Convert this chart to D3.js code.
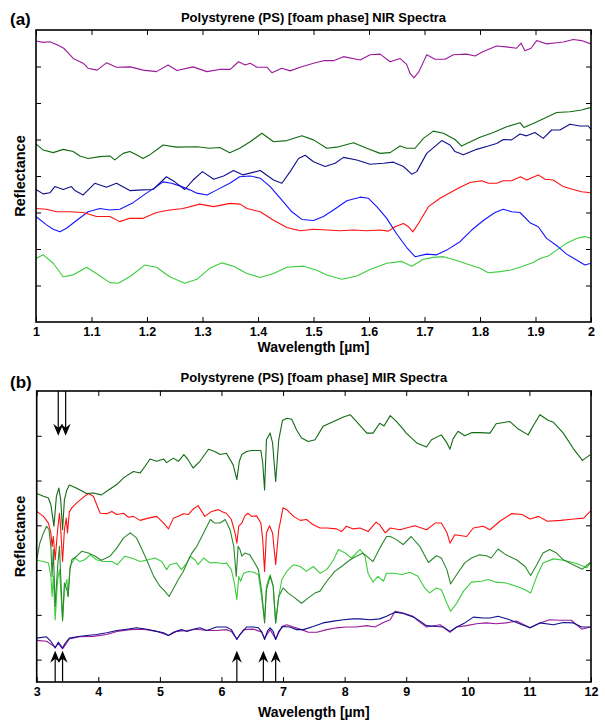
<!DOCTYPE html>
<html><head><meta charset="utf-8">
<script src="https://cdn.jsdelivr.net/npm/d3@7"></script>
<style>body{margin:0;background:#fff}svg{display:block}</style>
</head><body>
<svg id="c" width="606" height="721"></svg>
<script>
// ---------- NIR panel (a) ----------
const nirTicksX = [1,1.1,1.2,1.3,1.4,1.5,1.6,1.7,1.8,1.9,2];
const nirTickLabels = ["1","1.1","1.2","1.3","1.4","1.5","1.6","1.7","1.8","1.9","2"];
const nirTicksY = [1,2,3,4,5,6,7];
const nirPurple = [[1.0,7.70],[1.013,7.66],[1.025,7.68],[1.04,7.58],[1.05,7.50],[1.06,7.34],[1.067,7.22],[1.085,7.09],[1.094,6.95],[1.11,6.90],[1.127,7.10],[1.145,6.98],[1.17,6.99],[1.193,6.90],[1.217,6.86],[1.238,7.04],[1.254,6.89],[1.283,6.99],[1.308,6.86],[1.331,6.92],[1.35,6.92],[1.365,7.13],[1.377,7.04],[1.386,7.09],[1.398,6.98],[1.416,6.98],[1.425,6.83],[1.443,6.95],[1.458,6.88],[1.476,6.98],[1.50,7.09],[1.518,7.16],[1.536,7.16],[1.554,7.27],[1.584,7.18],[1.602,7.32],[1.62,7.34],[1.638,7.13],[1.656,7.22],[1.668,7.05],[1.674,6.81],[1.681,6.69],[1.69,6.86],[1.704,7.32],[1.719,7.20],[1.737,7.20],[1.752,7.32],[1.776,7.34],[1.791,7.29],[1.806,7.41],[1.83,7.56],[1.851,7.53],[1.866,7.50],[1.874,7.64],[1.881,7.43],[1.892,7.50],[1.902,7.71],[1.92,7.62],[1.938,7.65],[1.95,7.67],[1.968,7.74],[1.983,7.71],[2.0,7.62]];
const nirDarkGreen = [[1.0,4.88],[1.013,4.71],[1.031,4.64],[1.049,4.73],[1.067,4.67],[1.079,4.55],[1.094,4.48],[1.115,4.53],[1.133,4.55],[1.142,4.44],[1.157,4.62],[1.169,4.67],[1.181,4.58],[1.193,4.48],[1.205,4.58],[1.229,4.85],[1.253,4.79],[1.29,4.80],[1.313,4.76],[1.331,4.78],[1.349,4.64],[1.367,4.76],[1.386,4.94],[1.407,5.17],[1.428,4.94],[1.452,4.97],[1.479,5.10],[1.5,4.99],[1.524,4.76],[1.542,4.79],[1.572,4.91],[1.596,4.76],[1.62,4.62],[1.638,4.64],[1.656,4.82],[1.668,4.76],[1.683,4.76],[1.698,5.03],[1.716,5.23],[1.734,5.17],[1.755,5.00],[1.767,4.82],[1.776,4.89],[1.80,5.06],[1.824,5.19],[1.848,5.35],[1.872,5.46],[1.879,5.33],[1.896,5.44],[1.920,5.61],[1.938,5.74],[1.962,5.76],[1.983,5.81],[2.0,5.88]];
const nirNavy = [[1.0,3.63],[1.013,3.51],[1.025,3.54],[1.034,3.71],[1.049,3.63],[1.064,3.71],[1.07,3.60],[1.085,3.48],[1.106,3.80],[1.127,3.69],[1.145,3.80],[1.169,3.60],[1.193,3.62],[1.211,3.63],[1.235,3.98],[1.25,3.84],[1.268,3.63],[1.283,3.89],[1.30,4.12],[1.32,3.91],[1.338,4.0],[1.356,4.15],[1.373,4.03],[1.404,4.15],[1.428,3.89],[1.443,3.80],[1.458,4.12],[1.473,4.48],[1.485,4.57],[1.50,4.39],[1.521,4.26],[1.539,4.35],[1.554,4.51],[1.578,4.44],[1.602,4.32],[1.626,4.35],[1.644,4.38],[1.662,4.26],[1.677,4.05],[1.686,4.12],[1.704,4.62],[1.731,4.97],[1.746,4.85],[1.755,4.67],[1.77,4.58],[1.794,4.73],[1.815,4.82],[1.830,4.89],[1.842,5.0],[1.857,4.99],[1.872,5.15],[1.884,5.10],[1.899,5.19],[1.914,5.03],[1.929,5.26],[1.944,5.26],[1.962,5.42],[1.98,5.37],[1.995,5.37],[2.0,5.28]];
const nirRed = [[1.0,3.11],[1.019,3.09],[1.037,3.02],[1.061,3.02],[1.085,3.0],[1.109,2.89],[1.133,2.89],[1.151,2.75],[1.169,2.84],[1.193,2.84],[1.217,3.0],[1.241,3.07],[1.265,3.11],[1.295,3.23],[1.32,3.16],[1.35,3.25],[1.368,3.23],[1.38,3.11],[1.404,3.02],[1.428,2.79],[1.452,2.59],[1.476,2.50],[1.50,2.54],[1.524,2.52],[1.548,2.50],[1.572,2.52],[1.596,2.50],[1.62,2.52],[1.635,2.49],[1.647,2.61],[1.662,2.70],[1.671,2.61],[1.679,2.47],[1.689,2.70],[1.707,3.16],[1.728,3.39],[1.746,3.54],[1.764,3.69],[1.782,3.82],[1.803,3.87],[1.815,3.80],[1.830,3.80],[1.842,3.87],[1.857,3.87],[1.873,3.98],[1.884,3.89],[1.905,4.03],[1.917,3.91],[1.932,3.89],[1.950,3.71],[1.968,3.63],[1.983,3.57],[2.0,3.54]];
const nirBlue = [[1.0,2.89],[1.019,2.66],[1.031,2.54],[1.043,2.47],[1.055,2.57],[1.073,2.78],[1.094,3.02],[1.115,3.11],[1.133,3.07],[1.151,3.09],[1.175,3.27],[1.199,3.53],[1.217,3.71],[1.229,3.84],[1.244,3.80],[1.259,3.73],[1.277,3.62],[1.29,3.53],[1.308,3.48],[1.326,3.62],[1.349,3.80],[1.367,3.98],[1.386,4.0],[1.404,3.94],[1.422,3.71],[1.443,3.34],[1.461,3.02],[1.479,2.81],[1.50,2.78],[1.518,2.89],[1.536,3.07],[1.560,3.32],[1.584,3.42],[1.599,3.39],[1.614,3.16],[1.632,2.84],[1.650,2.41],[1.668,2.04],[1.683,1.79],[1.704,1.86],[1.722,1.84],[1.740,1.97],[1.764,2.20],[1.785,2.52],[1.806,2.78],[1.827,3.0],[1.842,3.09],[1.857,3.02],[1.872,3.0],[1.890,2.72],[1.905,2.61],[1.920,2.29],[1.941,2.06],[1.956,1.86],[1.974,1.70],[1.989,1.56],[2.0,1.61]];
const nirLightGreen = [[1.0,1.74],[1.013,1.84],[1.031,1.61],[1.049,1.24],[1.067,1.29],[1.091,1.50],[1.109,1.33],[1.133,1.08],[1.148,1.06],[1.169,1.24],[1.196,1.56],[1.217,1.50],[1.241,1.24],[1.268,1.06],[1.29,1.17],[1.313,1.47],[1.335,1.62],[1.356,1.53],[1.380,1.33],[1.404,1.22],[1.428,1.33],[1.452,1.50],[1.482,1.53],[1.506,1.42],[1.524,1.29],[1.551,1.17],[1.578,1.26],[1.602,1.44],[1.632,1.61],[1.659,1.66],[1.677,1.53],[1.698,1.72],[1.716,1.77],[1.734,1.79],[1.755,1.70],[1.782,1.56],[1.8,1.47],[1.815,1.35],[1.836,1.38],[1.854,1.42],[1.872,1.50],[1.896,1.63],[1.908,1.74],[1.923,1.81],[1.938,1.97],[1.956,2.16],[1.974,2.29],[1.989,2.34],[2.0,2.29]];

// ---------- MIR panel (b) ----------
const mirTicksX = [3,4,5,6,7,8,9,10,11,12];
const mirTickLabels = ["3","4","5","6","7","8","9","10","11","12"];
const mirTicksY = [0,1,2,3,4,5];
const mirDarkGreenTop = [[3.0,3.71],[3.11,3.65],[3.19,3.61],[3.23,3.46],[3.28,2.98],[3.32,3.65],[3.36,3.83],[3.39,3.57],[3.42,2.90],[3.45,3.57],[3.49,3.79],[3.53,3.90],[3.65,3.83],[3.81,3.71],[3.92,3.72],[4.05,3.68],[4.19,3.81],[4.30,3.91],[4.41,4.06],[4.57,4.20],[4.68,4.17],[4.76,4.32],[4.84,4.48],[4.95,4.43],[5.06,4.48],[5.11,4.40],[5.22,4.50],[5.30,4.43],[5.39,4.58],[5.46,4.46],[5.54,4.28],[5.65,4.43],[5.79,4.70],[5.89,4.65],[5.98,4.58],[6.08,4.61],[6.19,4.35],[6.25,4.02],[6.29,4.43],[6.33,4.58],[6.41,4.65],[6.49,4.67],[6.57,4.67],[6.64,4.67],[6.67,4.39],[6.70,3.79],[6.73,4.91],[6.79,5.06],[6.83,4.84],[6.88,3.98],[6.93,4.91],[6.99,5.34],[7.06,5.39],[7.14,5.37],[7.22,5.13],[7.30,4.95],[7.41,4.87],[7.52,4.91],[7.65,5.21],[7.82,5.32],[7.98,5.42],[8.09,5.47],[8.19,5.32],[8.36,5.06],[8.46,5.06],[8.57,5.28],[8.64,5.22],[8.74,5.45],[8.84,5.32],[8.95,5.15],[9.0,5.06],[9.17,4.84],[9.33,4.75],[9.41,4.91],[9.57,5.02],[9.66,4.84],[9.71,4.70],[9.76,4.93],[9.84,5.10],[9.95,5.0],[10.06,5.07],[10.19,5.07],[10.36,5.06],[10.46,5.27],[10.68,5.32],[10.82,5.15],[10.98,5.02],[11.06,5.22],[11.17,5.47],[11.31,5.34],[11.39,5.30],[11.55,5.06],[11.71,4.72],[11.86,4.45],[11.99,4.58]];
const mirRed = [[3.0,3.31],[3.11,3.20],[3.19,3.05],[3.23,2.83],[3.25,2.53],[3.27,2.75],[3.30,2.23],[3.34,2.90],[3.37,3.27],[3.39,2.90],[3.42,2.19],[3.45,2.90],[3.48,3.16],[3.50,2.83],[3.53,3.30],[3.57,3.39],[3.65,3.50],[3.76,3.63],[3.84,3.71],[3.92,3.65],[4.03,3.27],[4.14,3.26],[4.22,3.31],[4.30,3.24],[4.41,3.27],[4.49,3.18],[4.57,3.20],[4.68,3.11],[4.81,3.16],[4.95,3.20],[5.06,3.05],[5.14,2.92],[5.22,3.16],[5.30,3.20],[5.38,3.26],[5.46,3.24],[5.54,3.36],[5.62,3.44],[5.73,3.20],[5.84,3.31],[5.95,3.35],[6.03,3.29],[6.08,3.27],[6.16,3.13],[6.22,2.83],[6.25,2.60],[6.28,2.98],[6.33,3.05],[6.38,3.21],[6.43,3.27],[6.49,3.20],[6.57,3.21],[6.64,3.05],[6.67,2.68],[6.70,1.97],[6.73,2.83],[6.78,2.99],[6.83,2.83],[6.88,2.12],[6.93,2.90],[7.0,3.39],[7.06,3.35],[7.17,3.20],[7.28,3.11],[7.38,3.13],[7.49,3.01],[7.60,2.94],[7.71,2.94],[7.87,2.92],[7.95,2.86],[8.03,2.98],[8.14,2.92],[8.25,2.94],[8.38,2.86],[8.51,3.07],[8.57,3.01],[8.66,2.83],[8.74,2.94],[8.90,2.90],[9.0,2.94],[9.14,2.99],[9.33,2.90],[9.47,3.05],[9.57,3.05],[9.66,2.84],[9.71,2.60],[9.79,2.79],[9.98,2.75],[10.09,2.94],[10.25,2.98],[10.36,2.90],[10.52,3.09],[10.71,3.26],[10.88,3.24],[11.01,3.14],[11.15,3.20],[11.29,3.09],[11.51,3.11],[11.72,3.14],[11.88,3.16],[12.0,3.33]];
const mirDarkGreenMid = [[3.0,2.23],[3.05,2.60],[3.11,2.83],[3.16,2.98],[3.20,2.90],[3.23,2.53],[3.25,1.86],[3.27,2.46],[3.30,1.19],[3.34,2.08],[3.37,2.53],[3.39,1.86],[3.42,0.89],[3.45,1.71],[3.49,1.56],[3.51,1.41],[3.54,2.0],[3.57,2.23],[3.65,2.31],[3.73,2.42],[3.84,2.38],[3.95,2.31],[4.05,2.22],[4.19,2.31],[4.30,2.49],[4.41,2.72],[4.52,2.83],[4.62,2.72],[4.76,2.31],[4.90,1.86],[5.0,1.64],[5.08,1.53],[5.15,1.41],[5.21,1.56],[5.30,1.79],[5.38,1.97],[5.44,2.16],[5.52,2.38],[5.60,2.53],[5.71,2.83],[5.82,3.13],[5.89,3.05],[5.98,3.05],[6.06,3.13],[6.14,2.90],[6.20,2.53],[6.24,1.86],[6.27,2.53],[6.30,2.46],[6.33,2.31],[6.38,2.38],[6.46,2.34],[6.54,2.16],[6.60,2.01],[6.65,1.56],[6.70,0.82],[6.73,1.56],[6.79,1.86],[6.84,1.64],[6.88,0.82],[6.93,1.41],[7.0,1.60],[7.08,1.49],[7.19,1.38],[7.30,1.26],[7.41,1.38],[7.52,1.49],[7.60,1.53],[7.71,1.75],[7.84,1.97],[7.95,2.08],[8.09,2.23],[8.19,2.31],[8.30,2.38],[8.46,2.19],[8.57,2.49],[8.68,2.75],[8.74,2.75],[8.84,2.68],[8.95,2.57],[9.08,2.75],[9.22,2.53],[9.36,2.17],[9.49,2.32],[9.57,2.27],[9.66,2.01],[9.72,1.69],[9.82,1.90],[9.95,2.16],[10.06,2.27],[10.19,2.34],[10.30,2.32],[10.38,2.27],[10.49,2.47],[10.62,2.34],[10.79,2.23],[10.93,2.08],[11.02,1.88],[11.12,2.12],[11.22,2.38],[11.33,2.46],[11.44,2.38],[11.55,2.23],[11.71,2.12],[11.86,2.02],[11.99,2.17]];
const mirLightGreen = [[3.0,2.22],[3.11,2.19],[3.19,2.16],[3.23,1.86],[3.25,1.41],[3.27,1.86],[3.30,0.89],[3.34,1.79],[3.37,2.01],[3.39,1.56],[3.42,0.86],[3.45,1.56],[3.49,1.79],[3.51,1.41],[3.54,2.08],[3.62,2.27],[3.70,2.19],[3.78,2.23],[3.87,2.34],[3.97,2.23],[4.08,2.19],[4.22,2.19],[4.31,2.12],[4.43,2.31],[4.54,2.27],[4.68,2.19],[4.81,2.23],[4.92,2.27],[5.03,2.19],[5.11,2.01],[5.16,2.12],[5.27,2.16],[5.35,2.01],[5.44,2.16],[5.49,2.31],[5.57,2.23],[5.62,2.12],[5.71,2.27],[5.81,2.16],[5.92,2.17],[6.03,2.14],[6.08,2.16],[6.16,2.01],[6.21,1.71],[6.25,1.34],[6.28,1.86],[6.31,1.75],[6.36,1.93],[6.44,1.97],[6.52,1.95],[6.60,1.90],[6.65,1.41],[6.70,0.89],[6.73,1.64],[6.79,1.90],[6.84,1.64],[6.88,0.82],[6.93,1.41],[6.98,1.79],[7.06,1.97],[7.17,2.12],[7.28,2.08],[7.38,1.97],[7.49,2.08],[7.60,1.93],[7.71,2.01],[7.82,2.23],[7.90,2.46],[8.01,2.38],[8.11,2.27],[8.25,2.46],[8.33,2.31],[8.38,1.93],[8.46,1.73],[8.54,1.86],[8.63,1.75],[8.68,1.93],[8.79,1.93],[8.93,1.90],[9.06,1.95],[9.19,1.86],[9.30,1.60],[9.38,1.49],[9.49,1.60],[9.57,1.56],[9.66,1.26],[9.72,1.08],[9.82,1.26],[9.93,1.53],[10.06,1.73],[10.22,1.75],[10.33,1.79],[10.46,1.73],[10.62,1.71],[10.79,1.64],[10.93,1.56],[11.02,1.49],[11.12,1.86],[11.22,2.16],[11.39,2.25],[11.55,2.22],[11.71,2.17],[11.85,2.10],[11.93,2.05],[11.99,2.16]];
const mirPurple = [[3.0,0.43],[3.16,0.41],[3.30,0.28],[3.35,0.36],[3.42,0.24],[3.53,0.46],[3.70,0.51],[3.92,0.52],[4.14,0.56],[4.30,0.63],[4.52,0.67],[4.73,0.68],[4.95,0.63],[5.14,0.54],[5.27,0.63],[5.44,0.65],[5.60,0.68],[5.76,0.65],[5.92,0.65],[6.08,0.67],[6.16,0.63],[6.25,0.46],[6.36,0.67],[6.52,0.68],[6.65,0.62],[6.70,0.48],[6.79,0.67],[6.88,0.46],[6.98,0.74],[7.06,0.78],[7.17,0.73],[7.30,0.67],[7.41,0.61],[7.55,0.61],[7.71,0.67],[7.87,0.71],[8.03,0.73],[8.19,0.73],[8.36,0.76],[8.49,0.73],[8.63,0.83],[8.74,0.89],[8.82,1.08],[8.95,1.04],[9.11,0.97],[9.17,0.89],[9.33,0.73],[9.55,0.78],[9.71,0.61],[9.82,0.73],[9.98,0.76],[10.14,0.80],[10.30,0.82],[10.46,0.80],[10.62,0.82],[10.79,0.86],[11.01,0.71],[11.17,0.82],[11.33,0.89],[11.49,0.88],[11.68,0.88],[11.85,0.68],[11.99,0.73]];
const mirNavy = [[3.0,0.48],[3.16,0.51],[3.23,0.41],[3.30,0.26],[3.35,0.39],[3.42,0.26],[3.46,0.36],[3.53,0.48],[3.65,0.51],[3.81,0.54],[3.97,0.56],[4.14,0.60],[4.30,0.65],[4.46,0.68],[4.62,0.71],[4.79,0.68],[4.95,0.63],[5.06,0.60],[5.14,0.54],[5.22,0.61],[5.35,0.67],[5.44,0.63],[5.54,0.68],[5.65,0.71],[5.76,0.65],[5.92,0.73],[6.03,0.73],[6.08,0.73],[6.16,0.67],[6.25,0.45],[6.30,0.56],[6.41,0.73],[6.52,0.73],[6.60,0.71],[6.65,0.63],[6.70,0.45],[6.75,0.65],[6.79,0.71],[6.84,0.63],[6.88,0.45],[6.93,0.63],[7.0,0.74],[7.11,0.73],[7.22,0.67],[7.33,0.67],[7.49,0.74],[7.65,0.82],[7.82,0.86],[7.98,0.89],[8.14,0.91],[8.25,0.91],[8.41,0.89],[8.57,0.91],[8.68,0.97],[8.82,1.06],[8.95,1.03],[9.11,0.95],[9.17,0.91],[9.33,0.76],[9.49,0.74],[9.60,0.73],[9.71,0.63],[9.82,0.73],[9.95,0.82],[10.09,0.95],[10.25,0.93],[10.36,0.93],[10.49,0.97],[10.68,0.89],[10.84,0.80],[11.01,0.71],[11.17,0.82],[11.39,0.78],[11.55,0.83],[11.71,0.82],[11.85,0.73],[11.99,0.73]];
const mirDownArrows = [3.35, 3.47];
const mirUpArrows = [3.30, 3.42, 6.25, 6.68, 6.88];

// ---------- drawing ----------
const svg = d3.select("#c");
const FONT = "'Liberation Sans', Arial, Helvetica, sans-serif";
const defs = svg.append("defs");

function panel(cfg) {
  const x = d3.scaleLinear().domain(cfg.xDomain).range([cfg.left, cfg.right]);
  const y = d3.scaleLinear().domain(cfg.yDomain).range([cfg.bottom, cfg.top]);
  const g = svg.append("g");
  defs.append("clipPath").attr("id", "clip" + cfg.id).append("rect")
    .attr("x", cfg.left).attr("y", cfg.top)
    .attr("width", cfg.right - cfg.left).attr("height", cfg.bottom - cfg.top);
  const line = d3.line().x(d => x(d[0])).y(d => y(d[1]));
  const lg = g.append("g").attr("clip-path", `url(#clip${cfg.id})`);
  cfg.series.forEach(s => lg.append("path").attr("d", line(s.data))
    .attr("fill", "none").attr("stroke", s.color).attr("stroke-width", 1.1)
    .attr("stroke-linejoin", "round"));

  const ax = (gen, tr) => {
    const a = g.append("g").attr("transform", tr).call(gen);
    a.select(".domain").remove();
    a.selectAll(".tick line").attr("stroke", "#000").attr("stroke-width", 1);
    return a;
  };
  const xb = ax(d3.axisBottom(x).tickValues(cfg.xTicks).tickFormat((d, i) => cfg.xLabels[i]).tickSize(-5).tickPadding(5.5),
    `translate(0,${cfg.bottom})`);
  xb.selectAll("text").attr("font-family", FONT).attr("font-size", 12.5).attr("font-weight", "bold").attr("fill", "#000");
  ax(d3.axisTop(x).tickValues(cfg.xTicks).tickFormat("").tickSize(-5), `translate(0,${cfg.top})`);
  ax(d3.axisLeft(y).tickValues(cfg.yTicks).tickFormat("").tickSize(-5), `translate(${cfg.left},0)`);
  ax(d3.axisRight(y).tickValues(cfg.yTicks).tickFormat("").tickSize(-5), `translate(${cfg.right},0)`);

  g.append("rect").attr("x", cfg.left).attr("y", cfg.top)
    .attr("width", cfg.right - cfg.left).attr("height", cfg.bottom - cfg.top)
    .attr("fill", "none").attr("stroke", "#000").attr("stroke-width", 1.6);

  const txt = (s, xx, yy, size, anchor, rot) => {
    const t = g.append("text").attr("x", xx).attr("y", yy).text(s)
      .attr("font-family", FONT).attr("font-size", size).attr("font-weight", "bold")
      .attr("text-anchor", anchor).attr("fill", "#000");
    if (rot) t.attr("transform", `rotate(-90,${xx},${yy})`);
  };
  const cx = (cfg.left + cfg.right) / 2, cy = (cfg.top + cfg.bottom) / 2;
  txt(cfg.letter, 10, cfg.letterY, 17, "start");
  txt(cfg.title, cx, cfg.titleY, 13, "middle");
  txt("Reflectance", 25, cy, 14.5, "middle", true);
  txt("Wavelength [\u00b5m]", cx, cfg.xTitleY, 14, "middle");
  return {x, y, g};
}

panel({
  id: "a", left: 36, right: 591, top: 30, bottom: 322,
  xDomain: [1, 2], yDomain: [0, 8],
  xTicks: nirTicksX, xLabels: nirTickLabels, yTicks: nirTicksY,
  letter: "(a)", letterY: 25, title: "Polystyrene (PS) [foam phase] NIR Spectra", titleY: 21.5, xTitleY: 351.5,
  series: [
    {data: nirLightGreen, color: "#3ccc3c"},
    {data: nirBlue, color: "#1414ff"},
    {data: nirRed, color: "#ff1010"},
    {data: nirNavy, color: "#10108c"},
    {data: nirDarkGreen, color: "#0f6b0f"},
    {data: nirPurple, color: "#9a1a9a"}
  ]
});

const pb = panel({
  id: "b", left: 36.7, right: 591, top: 391, bottom: 682,
  xDomain: [3, 12], yDomain: [-0.5, 6],
  xTicks: mirTicksX, xLabels: mirTickLabels, yTicks: mirTicksY,
  letter: "(b)", letterY: 388, title: "Polystyrene (PS) [foam phase] MIR Spectra", titleY: 381.5, xTitleY: 717,
  series: [
    {data: mirLightGreen, color: "#3ccc3c"},
    {data: mirDarkGreenMid, color: "#2a882a"},
    {data: mirRed, color: "#ff1010"},
    {data: mirDarkGreenTop, color: "#126a12"},
    {data: mirPurple, color: "#9a1a9a"},
    {data: mirNavy, color: "#10108c"}
  ]
});

// arrows
const ag = pb.g.append("g");
function arrow(xv, yFrom, yTip, dir) {
  const X = pb.x(xv), T = pb.y(yTip), B = pb.y(yFrom);
  ag.append("line").attr("x1", X).attr("x2", X).attr("y1", B).attr("y2", T - dir * 7)
    .attr("stroke", "#000").attr("stroke-width", 1.2);
  ag.append("path")
    .attr("d", `M${X},${T} L${X - 5},${T - dir * 12} L${X},${T - dir * 8} L${X + 5},${T - dir * 12} Z`)
    .attr("fill", "#000");
}
mirDownArrows.forEach(v => arrow(v, 6, 5.0, 1));
mirUpArrows.forEach(v => arrow(v, -0.5, 0.2, -1));
</script>
</body></html>
